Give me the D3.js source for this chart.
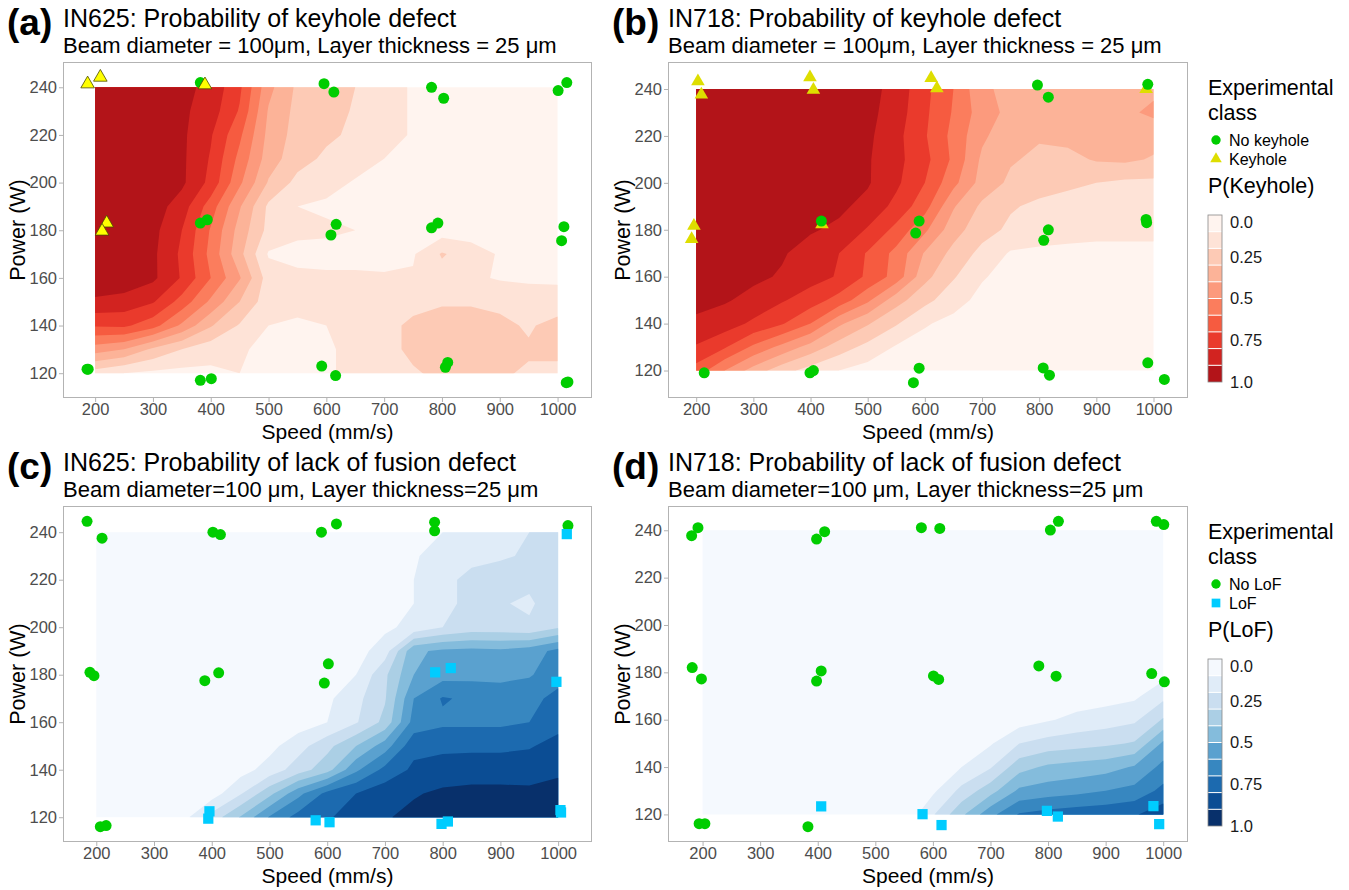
<!DOCTYPE html>
<html><head><meta charset="utf-8">
<script src="https://cdn.jsdelivr.net/npm/d3@7"></script>
<style>
body{margin:0;background:#fff}
svg{display:block}
text{font-family:"Liberation Sans",Arial,Helvetica,sans-serif}
</style>
</head><body>
<svg id="chart" width="1349" height="890"></svg>
<script>
// ---- grid coordinates of the probability maps ----
const speedCols = [200,250,300,350,400,450,500,550,600,650,700,750,800,850,900,950,1000];
const powerRows = [240,230,220,210,200,190,180,170,160,150,140,130,120];

// ---- (a) IN625 P(keyhole), rows = powerRows, cols = speedCols ----
const pKeyholeIN625 = [
 [0.99,0.98,0.96,0.93,0.87,0.72,0.43,0.28,0.24,0.20,0.14,0.09,0.07,0.06,0.05,0.05,0.05],
 [0.99,0.98,0.96,0.92,0.85,0.69,0.39,0.27,0.24,0.19,0.14,0.09,0.07,0.06,0.05,0.05,0.05],
 [0.99,0.98,0.96,0.92,0.81,0.62,0.37,0.26,0.22,0.18,0.14,0.09,0.07,0.06,0.05,0.05,0.05],
 [0.99,0.98,0.96,0.92,0.79,0.57,0.35,0.24,0.18,0.15,0.10,0.08,0.06,0.05,0.05,0.05,0.05],
 [0.99,0.98,0.96,0.92,0.77,0.52,0.29,0.17,0.14,0.09,0.07,0.06,0.05,0.05,0.05,0.05,0.05],
 [0.99,0.98,0.95,0.85,0.65,0.41,0.18,0.10,0.08,0.06,0.05,0.05,0.05,0.05,0.05,0.05,0.05],
 [0.99,0.98,0.93,0.80,0.59,0.36,0.17,0.13,0.12,0.10,0.06,0.05,0.05,0.05,0.05,0.05,0.05],
 [0.99,0.98,0.92,0.78,0.57,0.33,0.09,0.06,0.06,0.06,0.07,0.09,0.21,0.15,0.09,0.08,0.08],
 [0.98,0.97,0.92,0.79,0.60,0.41,0.15,0.13,0.12,0.12,0.11,0.11,0.16,0.12,0.09,0.08,0.08],
 [0.88,0.86,0.81,0.66,0.48,0.30,0.14,0.12,0.12,0.13,0.14,0.17,0.19,0.19,0.18,0.16,0.15],
 [0.71,0.72,0.64,0.48,0.31,0.19,0.10,0.09,0.10,0.13,0.17,0.22,0.24,0.24,0.22,0.19,0.23],
 [0.45,0.40,0.28,0.20,0.14,0.11,0.08,0.07,0.09,0.12,0.17,0.22,0.25,0.24,0.23,0.21,0.22],
 [0.15,0.10,0.08,0.07,0.08,0.10,0.09,0.08,0.09,0.12,0.15,0.19,0.22,0.23,0.21,0.19,0.18]
];
// ---- (b) IN718 P(keyhole) ----
const pKeyholeIN718 = [
 [0.99,0.99,0.99,0.98,0.97,0.96,0.94,0.86,0.73,0.60,0.42,0.37,0.36,0.36,0.36,0.37,0.38],
 [0.99,0.99,0.99,0.98,0.97,0.96,0.93,0.85,0.72,0.59,0.45,0.37,0.36,0.36,0.37,0.38,0.42],
 [0.99,0.99,0.98,0.98,0.97,0.95,0.92,0.83,0.71,0.57,0.42,0.33,0.31,0.33,0.34,0.35,0.34],
 [0.99,0.99,0.98,0.97,0.96,0.94,0.91,0.83,0.73,0.58,0.38,0.31,0.28,0.27,0.31,0.32,0.29],
 [0.99,0.99,0.98,0.97,0.96,0.94,0.91,0.82,0.70,0.53,0.36,0.28,0.24,0.22,0.20,0.18,0.18],
 [0.99,0.99,0.98,0.97,0.95,0.92,0.87,0.77,0.64,0.41,0.28,0.21,0.18,0.16,0.15,0.14,0.13],
 [0.99,0.98,0.97,0.95,0.91,0.88,0.79,0.67,0.52,0.34,0.24,0.18,0.15,0.13,0.12,0.11,0.11],
 [0.98,0.97,0.95,0.91,0.86,0.80,0.69,0.57,0.39,0.27,0.17,0.09,0.08,0.08,0.08,0.09,0.09],
 [0.97,0.95,0.92,0.89,0.84,0.79,0.68,0.56,0.33,0.21,0.11,0.06,0.05,0.05,0.05,0.05,0.05],
 [0.93,0.91,0.87,0.81,0.75,0.66,0.52,0.34,0.23,0.14,0.07,0.05,0.05,0.05,0.05,0.05,0.05],
 [0.88,0.85,0.78,0.71,0.60,0.42,0.31,0.21,0.11,0.07,0.05,0.05,0.05,0.05,0.05,0.05,0.05],
 [0.79,0.71,0.58,0.47,0.36,0.25,0.17,0.09,0.06,0.05,0.05,0.05,0.05,0.05,0.05,0.05,0.05],
 [0.66,0.50,0.36,0.24,0.16,0.10,0.06,0.05,0.05,0.05,0.05,0.05,0.05,0.05,0.05,0.05,0.05]
];
// ---- (c) IN625 P(LoF) ----
const pLofIN625 = [
 [0.01,0.01,0.01,0.01,0.01,0.01,0.01,0.01,0.02,0.02,0.03,0.06,0.10,0.13,0.16,0.20,0.23],
 [0.01,0.01,0.01,0.01,0.01,0.01,0.01,0.01,0.02,0.03,0.05,0.09,0.14,0.17,0.19,0.21,0.22],
 [0.01,0.01,0.01,0.01,0.01,0.01,0.01,0.01,0.02,0.03,0.05,0.10,0.17,0.23,0.24,0.23,0.28],
 [0.01,0.01,0.01,0.01,0.01,0.01,0.01,0.01,0.02,0.03,0.06,0.10,0.17,0.23,0.21,0.18,0.28],
 [0.01,0.01,0.01,0.01,0.01,0.01,0.01,0.01,0.02,0.05,0.08,0.13,0.20,0.24,0.24,0.22,0.29],
 [0.01,0.01,0.01,0.01,0.01,0.01,0.01,0.01,0.03,0.06,0.15,0.48,0.52,0.53,0.52,0.55,0.63],
 [0.01,0.01,0.01,0.01,0.01,0.01,0.01,0.02,0.04,0.10,0.28,0.50,0.56,0.57,0.57,0.59,0.66],
 [0.01,0.01,0.01,0.01,0.01,0.01,0.01,0.03,0.08,0.17,0.29,0.60,0.71,0.68,0.66,0.67,0.73],
 [0.01,0.01,0.01,0.01,0.01,0.01,0.02,0.05,0.10,0.19,0.33,0.64,0.68,0.68,0.68,0.70,0.76],
 [0.01,0.01,0.01,0.01,0.01,0.02,0.07,0.16,0.27,0.40,0.55,0.77,0.78,0.78,0.78,0.79,0.84],
 [0.01,0.01,0.01,0.01,0.02,0.06,0.14,0.25,0.36,0.58,0.73,0.82,0.84,0.85,0.85,0.86,0.88],
 [0.00,0.00,0.00,0.01,0.05,0.19,0.37,0.57,0.73,0.80,0.86,0.89,0.92,0.93,0.93,0.92,0.94],
 [0.00,0.00,0.00,0.06,0.24,0.41,0.61,0.74,0.79,0.84,0.89,0.93,0.95,0.95,0.95,0.95,0.95]
];
// ---- (d) IN718 P(LoF) ----
const pLofIN718 = [
 [0,0,0,0,0,0,0,0,0,0,0,0,0,0,0,0,0],
 [0,0,0,0,0,0,0,0,0,0,0,0,0,0,0,0,0],
 [0,0,0,0,0,0,0,0,0,0,0,0,0,0,0,0,0],
 [0,0,0,0,0,0,0,0,0,0,0,0,0,0,0,0,0],
 [0,0,0,0,0,0,0,0,0,0,0,0,0,0,0,0,0],
 [0,0,0,0,0,0,0,0,0,0,0,0,0,0,0,0,0],
 [0,0,0,0,0,0,0,0,0,0,0,0,0,0,0.01,0.02,0.06],
 [0,0,0,0,0,0,0,0,0,0,0,0,0.02,0.04,0.06,0.08,0.17],
 [0,0,0,0,0,0,0,0,0,0,0.01,0.05,0.09,0.13,0.15,0.18,0.31],
 [0,0,0,0,0,0,0,0,0,0.02,0.09,0.20,0.24,0.26,0.28,0.31,0.52],
 [0,0,0,0,0,0,0,0,0.02,0.10,0.19,0.36,0.42,0.44,0.46,0.51,0.63],
 [0,0,0,0,0,0,0,0.01,0.08,0.23,0.36,0.52,0.55,0.57,0.60,0.63,0.73],
 [0,0,0,0,0,0,0,0.02,0.19,0.38,0.57,0.71,0.74,0.76,0.77,0.79,0.86]
];

// ---- experimental points [speed, power] ----
const noKeyholeIN625 = [[382,242],[596,241.5],[613,238],[782,240],[803,235.4],[1001,238.6],[1016,242],
 [382,183],[394,184.4],[617,182.5],[608,178],[793,183],[782,181],[1011,181.5],[1007,175.6],
 [186,121.7],[188,121.7],[382,117],[401,117.7],[592,123],[616,119],[810,124.5],[806,122.5],[1015,116],[1018,116.3]];
const keyholeIN625 = [[187,241.4],[209,244.2],[390,241],[220,183],[212,179.6]];
const keyholeIN718 = [[203,243.3],[209,237.6],[399,245],[405,239.6],[611,244.7],[621,240.3],[196,181.7],[192,176],[420,182.3],[987,240]];
const noKeyholeIN718 = [[797,241.7],[816,236.5],[990,242],[419,183.7],[590,183.7],[584,178.6],[816,180],[808,175.5],[987,184.4],[988,183],
 [214,119],[399,119],[405,120],[590,121],[580,114.8],[807,121.1],[818,118],[990,123.3],[1019,116.2]];
const noLofIN625 = [[184,244.6],[210,237.5],[402,240],[415,239],[590,240],[616,243.5],[786,244.2],[786,240.6],[1017,242.8],
 [189,181],[196,179.6],[388,177.5],[412,180.8],[602,184.6],[595,176.5],[207,116],[217,116.5]];
const lofIN625 = [[1015,239.2],[787,181],[814,182.8],[997,177],[396,122.5],[394,119.4],[580,118.7],[604,117.9],[798,117.2],[809,118.2],[1004,123],[1005,122]];
const noLofIN718 = [[181,237.7],[192,241.1],[398,236.3],[412,239.4],[580,241.1],[612,240.8],[804,240.1],[818,243.8],[988,243.8],[1001,242.4],
 [182,182],[198,177.2],[398,176.3],[406,180.6],[601,178.5],[610,177],[784,182.7],[814,178.4],[980,179.5],[1002,176],[194,116.1],[204,116.1],[383,114.8]];
const lofIN718 = [[406,123.4],[582,120.1],[615,115.5],[798,121.5],[817,119.1],[983,123.5],[993,115.9]];

// ---- ticks / legend labels ----
const speedTicks = [200,300,400,500,600,700,800,900,1000];
const powerTicks = [120,140,160,180,200,220,240];
const levels = [0,0.1,0.2,0.3,0.4,0.5,0.6,0.7,0.8,0.9];
const barLabels = ["0.0","0.25","0.5","0.75","1.0"];
const barLabelValues = [0,0.25,0.5,0.75,1.0];

// ---- styles ----
const REDS = ["#fff4ef","#fee3d7","#fdcab5","#fcb398","#fc9a7d","#fb7d5d","#f65b40","#ea3a2c","#d22320","#b31419"];
const BLUES = ["#f5f9fe","#e0ecf8","#cadef0","#abcfe5","#84bcdc","#5aa1cf","#3787c0","#1c6aaf","#0b4d94","#08306b"];
const GREEN = "#00cd00", CYAN = "#00ccff";

const svg = d3.select("#chart");

const panels = [
 {letter:"(a)", title:"IN625: Probability of keyhole defect", subtitle:"Beam diameter = 100μm, Layer thickness = 25 μm",
  box:{left:63, top:62, width:529, height:336}, grid:pKeyholeIN625, palette:REDS,
  layers:[{pts:noKeyholeIN625, shape:"circle", fill:GREEN},{pts:keyholeIN625, shape:"triangle", fill:"#ffff00", stroke:"#4a4a00"}]},
 {letter:"(b)", title:"IN718: Probability of keyhole defect", subtitle:"Beam diameter = 100μm, Layer thickness = 25 μm",
  box:{left:668, top:62, width:520, height:336}, grid:pKeyholeIN718, palette:REDS,
  layers:[{pts:keyholeIN718, shape:"triangle", fill:"#dede00"},{pts:noKeyholeIN718, shape:"circle", fill:GREEN}],
  legend:{items:[["No keyhole","circle",GREEN],["Keyhole","triangle","#dede00"]], barTitle:"P(Keyhole)"}},
 {letter:"(c)", title:"IN625: Probability of lack of fusion defect", subtitle:"Beam diameter=100 μm, Layer thickness=25 μm",
  box:{left:63, top:506, width:529, height:336}, grid:pLofIN625, palette:BLUES,
  layers:[{pts:noLofIN625, shape:"circle", fill:GREEN},{pts:lofIN625, shape:"square", fill:CYAN}]},
 {letter:"(d)", title:"IN718: Probability of lack of fusion defect", subtitle:"Beam diameter=100 μm, Layer thickness=25 μm",
  box:{left:668, top:506, width:520, height:336}, grid:pLofIN718, palette:BLUES,
  layers:[{pts:noLofIN718, shape:"circle", fill:GREEN},{pts:lofIN718, shape:"square", fill:CYAN}],
  legend:{items:[["No LoF","circle",GREEN],["LoF","square",CYAN]], barTitle:"P(LoF)"}}
];

function symbolPath(shape){
  if(shape==="triangle") return d3.symbol(d3.symbolTriangle, 80)();
  if(shape==="square") return d3.symbol(d3.symbolSquare, 105)();
  return d3.symbol(d3.symbolCircle, 95)();
}

panels.forEach((cfg, pi) => {
  const {left, top, width, height} = cfg.box;
  const g = svg.append("g");
  const allPts = cfg.layers.flatMap(l => l.pts);
  const sExt = d3.extent(allPts.map(d=>d[0]).concat([speedCols[0], speedCols[speedCols.length-1]]));
  const pExt = d3.extent(allPts.map(d=>d[1]).concat([powerRows[powerRows.length-1], powerRows[0]]));
  const sPad = (sExt[1]-sExt[0])*0.05, pPad = (pExt[1]-pExt[0])*0.05;
  const x = d3.scaleLinear().domain([sExt[0]-sPad, sExt[1]+sPad]).range([left, left+width]);
  const y = d3.scaleLinear().domain([pExt[0]-pPad, pExt[1]+pPad]).range([top+height, top]);

  // filled contours
  const nx = speedCols.length, ny = powerRows.length;
  const ds = speedCols[1]-speedCols[0], dp = powerRows[1]-powerRows[0];
  const gen = d3.contours().size([nx, ny]).thresholds(levels);
  const proj = d3.geoTransform({point: function(px, py){
    this.stream.point(x(speedCols[0] + (px-0.5)*ds), y(powerRows[0] + (py-0.5)*dp));
  }});
  const path = d3.geoPath(proj);
  const clipId = "clip" + pi;
  const sMin = speedCols[0], sMax = speedCols[nx-1], pMax = powerRows[0], pMin = powerRows[ny-1];
  g.append("clipPath").attr("id", clipId).append("rect")
    .attr("x", x(sMin)).attr("y", y(pMax)).attr("width", x(sMax)-x(sMin)).attr("height", y(pMin)-y(pMax));
  const cg = g.append("g").attr("clip-path", `url(#${clipId})`);
  gen(cfg.grid.flat()).forEach((c, i) => {
    cg.append("path").attr("d", path(c)).attr("fill", cfg.palette[i]).attr("stroke", "none");
  });

  // points
  cfg.layers.forEach(l => {
    g.append("g").selectAll("path").data(l.pts).join("path")
      .attr("d", symbolPath(l.shape))
      .attr("transform", d => `translate(${x(d[0])},${y(d[1])})`)
      .attr("fill", l.fill)
      .attr("stroke", l.stroke || "none")
      .attr("stroke-width", l.stroke ? 0.8 : 0);
  });

  // panel border
  g.append("rect").attr("x", left+0.5).attr("y", top+0.5).attr("width", width-1).attr("height", height-1)
    .attr("fill", "none").attr("stroke", "#b3b3b3").attr("stroke-width", 1);

  // axes
  const xa = g.append("g").attr("transform", `translate(0,${top+height})`)
    .call(d3.axisBottom(x).tickValues(speedTicks).tickSize(4).tickPadding(2).tickFormat(d3.format("d")));
  const ya = g.append("g").attr("transform", `translate(${left},0)`)
    .call(d3.axisLeft(y).tickValues(powerTicks).tickSize(4).tickPadding(2).tickFormat(d3.format("d")));
  [xa, ya].forEach(a => {
    a.select(".domain").remove();
    a.selectAll(".tick line").attr("stroke", "#b3b3b3");
    a.selectAll(".tick text").attr("fill", "#4d4d4d").style("font-size", "16.5px")
      .style("font-family", '"Liberation Sans",Arial,sans-serif');
  });
  xa.selectAll(".tick text").attr("y", 17).attr("dy", "0");

  // axis titles
  g.append("text").attr("x", left+width/2).attr("y", top+height+41).attr("text-anchor", "middle")
    .style("font-size", "21px").attr("fill", "#000").text("Speed (mm/s)");
  g.append("text").attr("transform", `translate(${left-38},${top+height/2}) rotate(-90)`).attr("text-anchor", "middle")
    .style("font-size", "21.5px").attr("fill", "#000").text("Power (W)");

  // titles
  g.append("text").attr("x", left-56).attr("y", top-27).style("font-size", "37px").style("font-weight", "bold")
    .attr("fill", "#000").text(cfg.letter);
  g.append("text").attr("x", left).attr("y", top-35).style("font-size", "25px").attr("fill", "#000").text(cfg.title);
  g.append("text").attr("x", left).attr("y", top-9).style("font-size", "22px").attr("fill", "#000").text(cfg.subtitle);

  // legend
  if (cfg.legend) {
    const lx = left + width + 20, ly = top;
    const lg = g.append("g");
    lg.append("text").attr("x", lx).attr("y", ly+33).style("font-size", "21.5px").text("Experimental");
    lg.append("text").attr("x", lx).attr("y", ly+58).style("font-size", "21.5px").text("class");
    cfg.legend.items.forEach((it, k) => {
      const cy = ly + 78 + k*19;
      lg.append("path").attr("d", symbolPath(it[1]))
        .attr("fill", it[2]).attr("transform", `translate(${lx+8},${cy}) scale(0.85)`);
      lg.append("text").attr("x", lx+21).attr("y", cy).attr("dy", "0.35em").style("font-size", "16px").text(it[0]);
    });
    lg.append("text").attr("x", lx).attr("y", ly+131).style("font-size", "21.5px").text(cfg.legend.barTitle);
    const bx = lx, by = ly + 153, bw = 14, bh = 167;
    const bscale = d3.scaleLinear().domain([0,1]).range([by, by+bh]);
    cfg.palette.forEach((col, k) => {
      lg.append("rect").attr("x", bx).attr("y", bscale(levels[k])).attr("width", bw)
        .attr("height", bscale(0.1)-bscale(0)).attr("fill", col);
    });
    levels.slice(1).forEach(v => {
      lg.append("line").attr("x1", bx).attr("x2", bx+bw).attr("y1", bscale(v)).attr("y2", bscale(v))
        .attr("stroke", "#fff").attr("stroke-width", 1);
    });
    lg.append("rect").attr("x", bx).attr("y", by).attr("width", bw).attr("height", bh)
      .attr("fill", "none").attr("stroke", "#888").attr("stroke-width", 0.8);
    barLabels.forEach((t, k) => {
      let yy = bscale(barLabelValues[k]);
      if (k === 0) yy += 7;
      lg.append("text").attr("x", bx+bw+8).attr("y", yy).attr("dy", "0.35em")
        .style("font-size", "16.5px").attr("fill", "#1a1a1a").text(t);
    });
  }
});
</script>
</body></html>
